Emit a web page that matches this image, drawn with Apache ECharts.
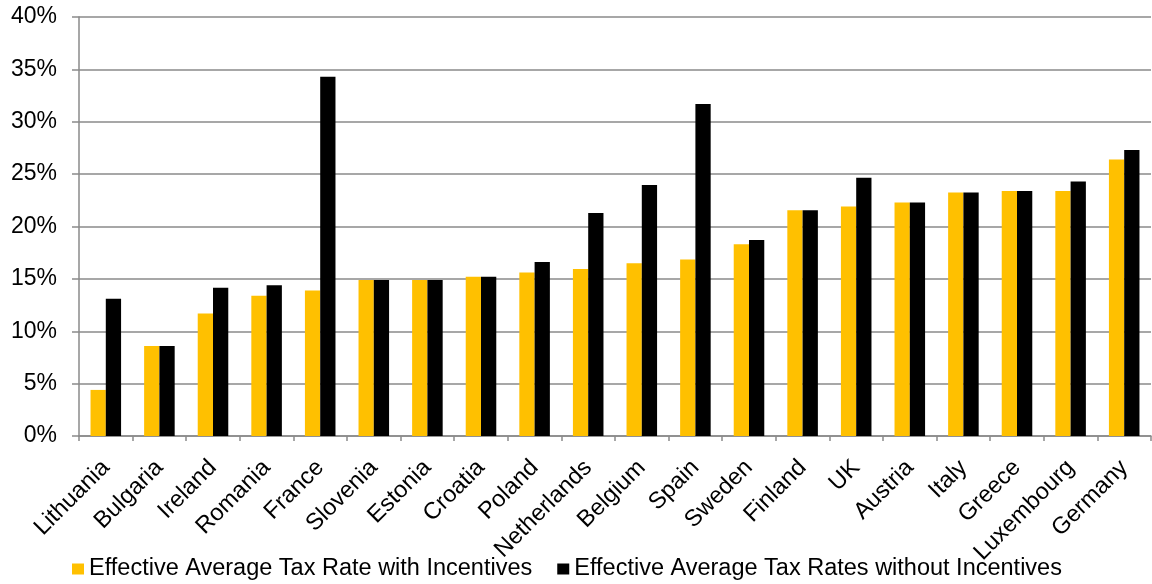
<!DOCTYPE html>
<html>
<head>
<meta charset="utf-8">
<script src="https://cdn.jsdelivr.net/npm/echarts@6/dist/echarts.min.js"></script>
<style>html,body{margin:0;padding:0;background:#fff}#c{width:1152px;height:584px}</style>
</head>
<body>
<div id="c"></div>
<script>
const categories = ["Lithuania","Bulgaria","Ireland","Romania","France","Slovenia","Estonia","Croatia","Poland","Netherlands","Belgium","Spain","Sweden","Finland","UK","Austria","Italy","Greece","Luxembourg","Germany"];
const withIncentives = [4.4, 8.6, 11.7, 13.4, 13.9, 14.9, 14.9, 15.2, 15.6, 15.95, 16.5, 16.85, 18.3, 21.55, 21.9, 22.3, 23.25, 23.4, 23.4, 26.4];
const withoutIncentives = [13.1, 8.6, 14.15, 14.4, 34.3, 14.9, 14.9, 15.2, 16.6, 21.3, 23.95, 31.7, 18.7, 21.55, 24.65, 22.3, 23.25, 23.4, 24.3, 27.3];
const seriesNames = ["Effective Average Tax Rate with Incentives", "Effective Average Tax Rates without Incentives"];
const yTicks = {min: 0, max: 40, interval: 5};

const chart = echarts.init(document.getElementById('c'), null, {renderer: 'canvas'});
const font = '"Liberation Sans", Arial, sans-serif';
const gridColor = '#8a8a8a';
chart.setOption({
  animation: false,
  textStyle: {fontFamily: font},
  grid: {left: 79, right: 1, top: 17, bottom: 148, containLabel: false},
  legend: {
    left: 72, top: 557, padding: 0,
    itemWidth: 12, itemHeight: 11, itemGap: 25,
    icon: 'rect',
    textStyle: {fontFamily: font, fontSize: 23.5, color: '#000'},
    data: seriesNames
  },
  xAxis: {
    type: 'category',
    data: categories,
    axisLine: {lineStyle: {color: gridColor, width: 1.5}},
    axisTick: {show: true, length: 5, lineStyle: {color: gridColor, width: 1.5}},
    axisLabel: {rotate: 45, margin: 28, fontSize: 23.5, color: '#000', fontFamily: font, interval: 0}
  },
  yAxis: {
    type: 'value',
    min: yTicks.min, max: yTicks.max, interval: yTicks.interval,
    axisLine: {show: true, lineStyle: {color: gridColor, width: 1.5}},
    axisTick: {show: true, length: 7, lineStyle: {color: gridColor, width: 1.5}},
    splitLine: {lineStyle: {color: gridColor, width: 1.5}},
    axisLabel: {formatter: '{value}%', fontSize: 23, color: '#000', fontFamily: font, margin: 22}
  },
  series: [
    {name: seriesNames[0], type: 'bar', data: withIncentives, itemStyle: {color: '#FFC000'}, barGap: '0%', barCategoryGap: '43%'},
    {name: seriesNames[1], type: 'bar', data: withoutIncentives, itemStyle: {color: '#000000'}, barGap: '0%', barCategoryGap: '43%'}
  ]
});
</script>
</body>
</html>
